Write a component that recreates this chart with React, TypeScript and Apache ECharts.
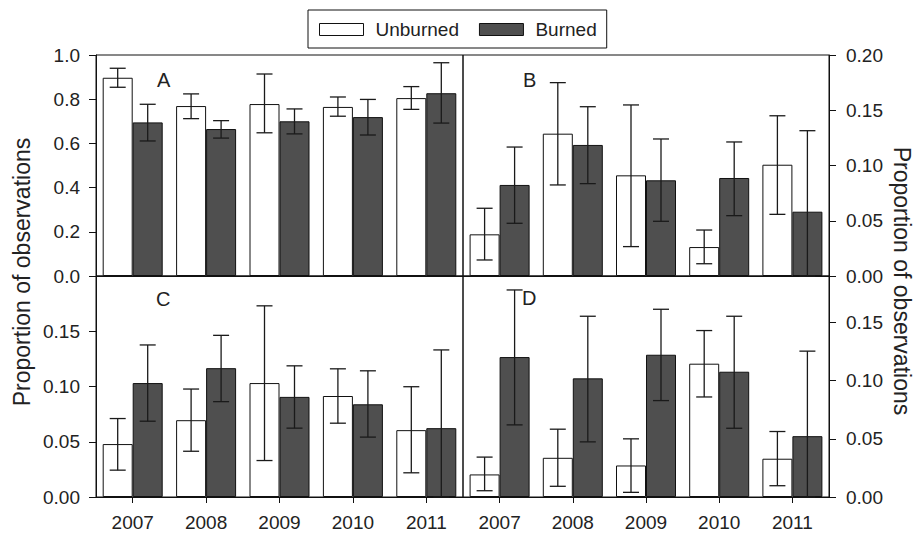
import React, { useEffect, useRef } from "react";
import * as echarts from "echarts";

const years = ["2007", "2008", "2009", "2010", "2011"];
const seriesNames = ["Unburned", "Burned"];
const panelLetters = ["A", "B", "C", "D"];
const axisTitle = "Proportion of observations";

// Panel A
const aUnb = [0.897, 0.769, 0.778, 0.765, 0.805];
const aUnbLow = [0.854, 0.712, 0.648, 0.723, 0.754];
const aUnbHigh = [0.94, 0.824, 0.914, 0.81, 0.857];
const aBur = [0.695, 0.665, 0.7, 0.719, 0.827];
const aBurLow = [0.611, 0.624, 0.643, 0.638, 0.692];
const aBurHigh = [0.777, 0.703, 0.756, 0.799, 0.965];

// Panel B
const bUnb = [0.0377, 0.1288, 0.0911, 0.0262, 0.1007];
const bUnbLow = [0.0145, 0.0824, 0.0266, 0.0111, 0.0558];
const bUnbHigh = [0.0613, 0.175, 0.1548, 0.0416, 0.145];
const bBur = [0.0824, 0.1186, 0.0866, 0.0887, 0.0582];
const bBurLow = [0.0477, 0.0836, 0.0495, 0.0546, 0];
const bBurHigh = [0.1167, 0.1532, 0.124, 0.1213, 0.1315];

// Panel C
const cUnb = [0.0479, 0.0695, 0.1031, 0.0914, 0.0605];
const cUnbLow = [0.0243, 0.0414, 0.033, 0.0668, 0.0219];
const cUnbHigh = [0.071, 0.0977, 0.173, 0.116, 0.0998];
const cBur = [0.1031, 0.1166, 0.0906, 0.0839, 0.0623];
const cBurLow = [0.0686, 0.0863, 0.0623, 0.0542, 0];
const cBurHigh = [0.1376, 0.1463, 0.1187, 0.1142, 0.1331];

// Panel D
const dUnb = [0.0194, 0.0337, 0.0271, 0.1146, 0.0329];
const dUnbLow = [0.0054, 0.0092, 0.004, 0.086, 0.0097];
const dUnbHigh = [0.0343, 0.0583, 0.05, 0.1431, 0.0563];
const dBur = [0.1203, 0.102, 0.1223, 0.1077, 0.0523];
const dBurLow = [0.062, 0.0474, 0.0829, 0.0591, 0];
const dBurHigh = [0.178, 0.1554, 0.1614, 0.1554, 0.1254];

// axis ranges
const yMax = [1.0, 0.2, 0.2, 0.19];
const yInterval = [0.2, 0.05, 0.05, 0.05];
const yDecimals = [1, 2, 2, 2];

const FONT = "'Liberation Sans', Arial, 'Noto Sans', sans-serif";
const INK = "#111";
const TXT = "#222";
const BAR_W = 30;

const panels = [
  { unb: aUnb, unbLow: aUnbLow, unbHigh: aUnbHigh, bur: aBur, burLow: aBurLow, burHigh: aBurHigh },
  { unb: bUnb, unbLow: bUnbLow, unbHigh: bUnbHigh, bur: bBur, burLow: bBurLow, burHigh: bBurHigh },
  { unb: cUnb, unbLow: cUnbLow, unbHigh: cUnbHigh, bur: cBur, burLow: cBurLow, burHigh: cBurHigh },
  { unb: dUnb, unbLow: dUnbLow, unbHigh: dUnbHigh, bur: dBur, burLow: dBurLow, burHigh: dBurHigh },
];

const gridBoxes = [
  { left: 96, top: 55, width: 367, height: 221 },
  { left: 463, top: 55, width: 366, height: 221 },
  { left: 96, top: 276, width: 367, height: 221 },
  { left: 463, top: 276, width: 366, height: 221 },
];

function makeErr(offset: number) {
  return (params: any, api: any) => {
    const c = api.value(0);
    const pLow = api.coord([c, api.value(1)]);
    const pHigh = api.coord([c, api.value(2)]);
    const x = pLow[0] + offset;
    const half = 8;
    const style = { stroke: "#1a1a1a", lineWidth: 1.3 };
    return {
      type: "group",
      children: [
        { type: "line", shape: { x1: x, y1: pLow[1], x2: x, y2: pHigh[1] }, style },
        { type: "line", shape: { x1: x - half, y1: pHigh[1], x2: x + half, y2: pHigh[1] }, style },
        { type: "line", shape: { x1: x - half, y1: pLow[1], x2: x + half, y2: pLow[1] }, style },
      ],
    };
  };
}

export default function App() {
  const ref = useRef<HTMLDivElement>(null);
  useEffect(() => {
    document.body.style.margin = "0";
    if (!ref.current) return;
    const chart = echarts.init(ref.current, undefined, { renderer: "svg" });

    const grid = gridBoxes.map((g) => ({
      ...g,
      show: true,
      borderColor: INK,
      borderWidth: 1,
      backgroundColor: "transparent",
      containLabel: false,
    }));

    const xAxis = gridBoxes.map((_, i) => {
      const bottom = i >= 2;
      return {
        gridIndex: i,
        type: "category",
        data: years,
        axisLine: { show: true, onZero: false, lineStyle: { color: INK, width: 1 } },
        axisTick: { show: bottom, alignWithLabel: true, length: 6, lineStyle: { color: INK } },
        axisLabel: {
          show: bottom,
          margin: 16,
          fontSize: 19,
          fontFamily: FONT,
          color: TXT,
        },
        splitLine: { show: false },
      };
    });

    const yAxis = gridBoxes.map((_, i) => {
      const right = i % 2 === 1;
      return {
        gridIndex: i,
        type: "value",
        min: 0,
        max: yMax[i],
        interval: yInterval[i],
        position: right ? "right" : "left",
        axisLine: { show: true, lineStyle: { color: INK, width: 1 } },
        axisTick: { show: true, length: 7, lineStyle: { color: INK } },
        axisLabel: {
          margin: right ? 17 : 16,
          fontSize: 19,
          fontFamily: FONT,
          color: TXT,
          showMaxLabel: i < 2,
          formatter: (v: number) => v.toFixed(yDecimals[i]),
        },
        splitLine: { show: false },
      };
    });

    const series: any[] = [];
    panels.forEach((p, i) => {
      series.push({
        type: "bar",
        name: seriesNames[0],
        xAxisIndex: i,
        yAxisIndex: i,
        data: p.unb,
        barWidth: BAR_W,
        barGap: "0%",
        itemStyle: { color: "#ffffff", borderColor: INK, borderWidth: 1 },
      });
      series.push({
        type: "bar",
        name: seriesNames[1],
        xAxisIndex: i,
        yAxisIndex: i,
        data: p.bur,
        barWidth: BAR_W,
        barGap: "0%",
        itemStyle: { color: "#4f4f4f", borderColor: INK, borderWidth: 1 },
      });
    });
    panels.forEach((p, i) => {
      series.push({
        type: "custom",
        xAxisIndex: i,
        yAxisIndex: i,
        silent: true,
        z: 5,
        renderItem: makeErr(-BAR_W / 2),
        encode: { x: 0, y: [1, 2] },
        data: years.map((_, k) => [k, p.unbLow[k], p.unbHigh[k]]),
      });
      series.push({
        type: "custom",
        xAxisIndex: i,
        yAxisIndex: i,
        silent: true,
        z: 5,
        renderItem: makeErr(BAR_W / 2),
        encode: { x: 0, y: [1, 2] },
        data: years.map((_, k) => [k, p.burLow[k], p.burHigh[k]]),
      });
    });

    const letterPos = [
      { x: 157, y: 80 },
      { x: 523, y: 80 },
      { x: 156, y: 299 },
      { x: 522, y: 298 },
    ];

    const graphic: any[] = [
      {
        type: "text",
        x: 22,
        y: 272,
        rotation: Math.PI / 2,
        style: {
          text: axisTitle,
          fontSize: 23,
          fontFamily: FONT,
          fill: TXT,
          textAlign: "center",
          textVerticalAlign: "middle",
        },
      },
      {
        type: "text",
        x: 902,
        y: 281,
        rotation: -Math.PI / 2,
        style: {
          text: axisTitle,
          fontSize: 23,
          fontFamily: FONT,
          fill: TXT,
          textAlign: "center",
          textVerticalAlign: "middle",
        },
      },
      ...panelLetters.map((t, i) => ({
        type: "text",
        x: letterPos[i].x,
        y: letterPos[i].y,
        style: {
          text: t,
          fontSize: 20,
          fontFamily: FONT,
          fill: TXT,
          textAlign: "left",
          textVerticalAlign: "middle",
        },
      })),
    ];

    chart.setOption({
      animation: false,
      backgroundColor: "#ffffff",
      legend: {
        data: seriesNames,
        left: 308,
        top: 10,
        orient: "horizontal",
        icon: "rect",
        itemWidth: 44,
        itemHeight: 12,
        itemGap: 20,
        padding: [10, 10, 9, 11],
        borderColor: INK,
        borderWidth: 1,
        backgroundColor: "#ffffff",
        itemStyle: { borderColor: INK, borderWidth: 1 },
        textStyle: { fontSize: 19, fontFamily: FONT, color: TXT, padding: [0, 0, 0, 7] },
      },
      grid,
      xAxis,
      yAxis,
      series,
      graphic,
    });
    return () => chart.dispose();
  }, []);
  return <div ref={ref} style={{ width: 915, height: 533 }} />;
}
